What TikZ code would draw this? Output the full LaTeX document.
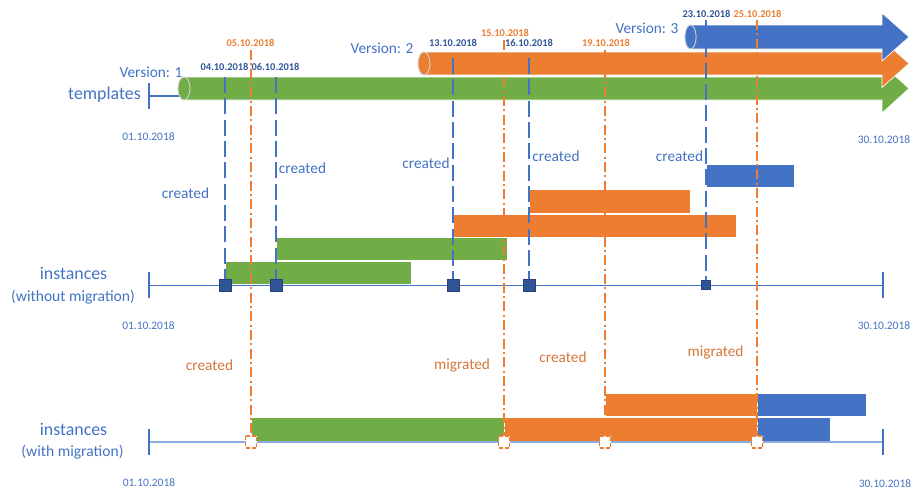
\documentclass[tikz,border=0pt]{standalone}
\usepackage{fontspec}
\setmainfont{Carlito}
\usetikzlibrary{calc}
\definecolor{tgreen}{HTML}{70AD47}
\definecolor{torange}{HTML}{ED7D31}
\definecolor{tblue}{HTML}{4472C4}
\definecolor{darkblue}{HTML}{2F5597}
\definecolor{txtorange}{HTML}{D5763A}
\definecolor{axislight}{HTML}{8FAADC}
\definecolor{capgray}{HTML}{D0D0D0}
\begin{document}
\begin{tikzpicture}[x=0.75pt,y=-0.75pt,
  bar/.style={draw=white, line width=0.5pt},
  capline/.style={draw=capgray, line width=0.7pt},
  lbl/.style={inner sep=0pt, text=tblue, font=\fontsize{11.5}{13}\selectfont},
  biglbl/.style={inner sep=0pt, text=tblue, font=\fontsize{13.4}{16}\selectfont},
  sublbl/.style={inner sep=0pt, text=tblue, font=\fontsize{11.7}{14}\selectfont},
  olbl/.style={inner sep=0pt, text=txtorange, font=\fontsize{11.5}{13}\selectfont},
  bdate/.style={inner sep=0pt, text=darkblue, font=\bfseries\fontsize{7.8}{9}\selectfont},
  odate/.style={inner sep=0pt, text=torange, font=\bfseries\fontsize{7.8}{9}\selectfont},
  edate/.style={inner sep=0pt, text=tblue, font=\fontsize{8.6}{10}\selectfont},
  bluedash/.style={draw=tblue, line width=1.1pt, dash pattern=on 12pt off 4pt},
  orangedash/.style={draw=torange, line width=1pt, dash pattern=on 7.5pt off 2.5pt on 1.5pt off 2.5pt},
  marker/.style={fill=darkblue, draw=darkblue!80!black, line width=0.4pt},
  omarker/.style={fill=white, draw=torange, line width=0.9pt, dash pattern=on 3pt off 1.5pt}]

\useasboundingbox (0,0) rectangle (913,490);

% ---------- template versions (cylinder arrows) ----------
\fill[tgreen, bar] (184,77) -- (882,77) -- (882,64) -- (909,88.5) -- (882,113) -- (882,100) -- (184,100) -- cycle;
\filldraw[fill=tgreen, capline] (184,88.5) ellipse [x radius=4.5pt, y radius=8.6pt];

\fill[torange, bar] (424,52) -- (882,52) -- (882,39.5) -- (909,63.5) -- (882,87.5) -- (882,75) -- (424,75) -- cycle;
\filldraw[fill=torange, capline] (424,63.5) ellipse [x radius=4.5pt, y radius=8.6pt];

\fill[tblue, bar] (690.5,25) -- (882,25) -- (882,13) -- (909,37) -- (882,61) -- (882,49) -- (690.5,49) -- cycle;
\filldraw[fill=tblue, capline] (690.5,37) ellipse [x radius=4.2pt, y radius=9pt];

\node[biglbl] (tpl) at (104.5,95) {templates};
\coordinate (tplA) at (149,83);
\coordinate (tplB) at (149,109);
\coordinate (tplM) at (149,96);
\coordinate (tplE) at (179,96);
\draw[tblue, line width=0.8pt] (tplA) -- (tplB);
\draw[tblue, line width=0.8pt] (tplM) -- (tplE);

\node[lbl] (v1) at (151,72) {Version: 1};
\node[lbl] (v2) at (382,48) {Version: 2};
\node[lbl] (v3) at (647,28) {Version: 3};

\node[bdate] (d04) at (224.5,67) {04.10.2018};
\node[bdate] (d06) at (275.5,67) {06.10.2018};
\node[odate] (d05) at (250.5,43) {05.10.2018};
\node[bdate] (d13) at (453,43) {13.10.2018};
\node[odate] (d15) at (505,33) {15.10.2018};
\node[bdate] (d16) at (529,43) {16.10.2018};
\node[odate] (d19) at (606,43) {19.10.2018};
\node[bdate] (d23) at (706.5,14) {23.10.2018};
\node[odate] (d25) at (757.5,14) {25.10.2018};

\node[edate] (s1) at (148.5,137) {01.10.2018};
\node[edate] (e1) at (884,140) {30.10.2018};

% ---------- instances without migration ----------
\node[lbl] (c1) at (185.5,193) {created};
\node[lbl] (c2) at (302.5,168) {created};
\node[lbl] (c3) at (426,163) {created};
\node[lbl] (c4) at (556,156) {created};
\node[lbl] (c5) at (679.5,156) {created};

\fill[tblue, bar] (706,164) rectangle (794,187);
\fill[torange, bar] (529,189) rectangle (690,213);
\fill[torange, bar] (453,214) rectangle (736,237);
\fill[tgreen, bar] (276,237) rectangle (507,260);
\fill[tgreen, bar] (225,261) rectangle (411,284);

\node[biglbl] (in1) at (73.5,273) {instances};
\node[sublbl] (in1s) at (73,297) {(without migration)};
\coordinate (ax1a) at (149,285.5);
\coordinate (ax1b) at (883,285.5);
\draw[tblue, line width=0.8pt] (ax1a) -- (ax1b);
\draw[tblue, line width=0.8pt] (149,272) -- (149,298);
\draw[tblue, line width=0.8pt] (883,272) -- (883,298);
\node[edate] (s2) at (148.5,326) {01.10.2018};
\node[edate] (e2) at (884,326) {30.10.2018};

% ---------- instances with migration ----------
\node[olbl] (m1) at (209.5,365) {created};
\node[olbl] (m2) at (462,365) {migrated};
\node[olbl] (m3) at (563,357) {created};
\node[olbl] (m4) at (715.5,352) {migrated};

\fill[torange, bar] (605,393) rectangle (757,416.5);
\fill[tblue, bar] (757,393) rectangle (866,416.5);
\fill[tgreen, bar] (251,417.5) rectangle (504,441);
\fill[torange, bar] (504,417.5) rectangle (757,441);
\fill[tblue, bar] (757,417.5) rectangle (830,441);

\node[biglbl] (in2) at (73.5,429) {instances};
\node[sublbl] (in2s) at (72.5,452) {(with migration)};
\coordinate (ax2a) at (149,442);
\coordinate (ax2b) at (883,442);
\draw[axislight, line width=1.4pt] (ax2a) -- (ax2b);
\draw[tblue, line width=0.8pt] (149,429) -- (149,455);
\draw[tblue, line width=0.8pt] (883,429) -- (883,455);
\node[edate] (s3) at (149,483) {01.10.2018};
\node[edate] (e3) at (885,484) {30.10.2018};

% ---------- date guide lines ----------
\foreach \n/\x/\yt in {a/225/77, b/276/77, c/453/58, d/529/58, e/706/20} {
  \coordinate (vt\n) at (\x,\yt);
  \coordinate (vb\n) at (\x,285);
}
\foreach \n in {a,b,c,d,e} \draw[bluedash] (vt\n) -- (vb\n);

\foreach \n/\x/\yt in {a/251/50, b/504/40, c/605/50, d/757/20} {
  \coordinate (ot\n) at (\x,\yt);
  \coordinate (ob\n) at (\x,442);
}
\foreach \n in {a,b,c,d} \draw[orangedash] (ot\n) -- (ob\n);

% ---------- markers ----------
\foreach \n in {a,b,c,d} \draw[marker] ($(vb\n)+(-6,-6)$) rectangle ($(vb\n)+(6,6)$);
\draw[marker] ($(vbe)+(-4.5,-4.5)$) rectangle ($(vbe)+(4.5,4.5)$);
\foreach \n in {a,b,c,d} \draw[omarker] ($(ob\n)+(-5.5,-6)$) rectangle ($(ob\n)+(5.5,6)$);

\end{tikzpicture}
\end{document}
